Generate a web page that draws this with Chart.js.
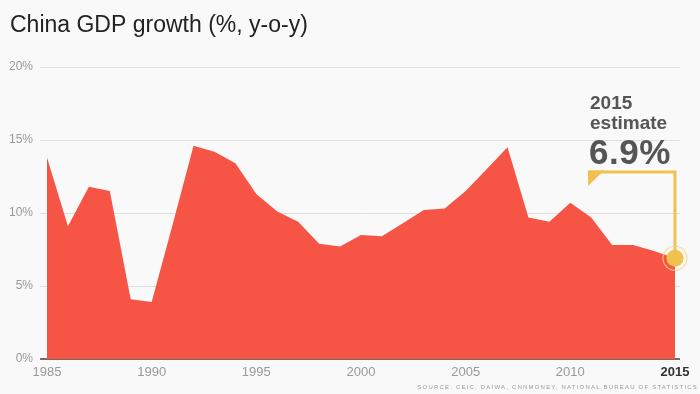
<!DOCTYPE html>
<html><head><meta charset="utf-8">
<script src="https://cdn.jsdelivr.net/npm/chart.js@4/dist/chart.umd.min.js"></script>
<style>html,body{margin:0;padding:0;background:#f9f9f9}#wrap{position:relative;width:700px;height:394px}</style>
</head><body><div id="wrap"><canvas id="c" width="700" height="394"></canvas></div>
<script>
const years = [1985,1986,1987,1988,1989,1990,1991,1992,1993,1994,1995,1996,1997,1998,1999,2000,2001,2002,2003,2004,2005,2006,2007,2008,2009,2010,2011,2012,2013,2014,2015];
const growth = [13.8,9.1,11.8,11.5,4.1,3.9,9.2,14.6,14.2,13.4,11.3,10.1,9.4,7.9,7.7,8.5,8.4,9.3,10.2,10.3,11.5,13.0,14.5,9.7,9.4,10.7,9.7,7.8,7.8,7.4,6.9];
const xTickYears = [1985,1990,1995,2000,2005,2010,2015];
const yTickValues = [0,5,10,15,20];
const titleText = "China GDP growth (%, y-o-y)";
const sourceText = "SOURCE: CEIC, DAIWA, CNNMONEY, NATIONAL BUREAU OF STATISTICS";
const estimateLabel = ["2015", "estimate"];
const estimateValueText = "6.9%";
const estimateYear = 2015;
const estimateValue = 6.9;

const RED = '#f65546';
const YELLOW = '#f1c14f';
const FONT = '"Liberation Sans", Arial, Helvetica, sans-serif';

const overlay = {
  id: 'overlay',
  afterDatasetsDraw(chart) {
    const ctx = chart.ctx;
    const xs = chart.scales.x, ys = chart.scales.y;
    const mx = xs.getPixelForValue(estimateYear);
    const my = ys.getPixelForValue(estimateValue);
    const bx = 588, by = 172;
    ctx.save();
    ctx.strokeStyle = YELLOW;
    ctx.lineWidth = 3;
    ctx.beginPath();
    ctx.moveTo(bx, by);
    ctx.lineTo(mx, by);
    ctx.lineTo(mx, my);
    ctx.stroke();
    ctx.fillStyle = YELLOW;
    ctx.beginPath();
    ctx.moveTo(bx, by - 1.5);
    ctx.lineTo(bx + 16, by - 1.5);
    ctx.lineTo(bx, by + 14);
    ctx.closePath();
    ctx.fill();
    ctx.beginPath();
    ctx.arc(mx, my, 12, 0, Math.PI * 2);
    ctx.strokeStyle = 'rgba(246,214,130,0.8)';
    ctx.lineWidth = 1.2;
    ctx.stroke();
    ctx.beginPath();
    ctx.arc(mx, my, 8.5, 0, Math.PI * 2);
    ctx.fillStyle = YELLOW;
    ctx.fill();
    ctx.fillStyle = '#555';
    ctx.textAlign = 'left';
    ctx.textBaseline = 'alphabetic';
    ctx.font = 'bold 19px ' + FONT;
    ctx.letterSpacing = '0px';
    ctx.fillText(estimateLabel[0], 590, 109);
    ctx.fillText(estimateLabel[1], 590, 129);
    ctx.font = 'bold 35px ' + FONT;
    ctx.letterSpacing = '0.5px';
    ctx.fillText(estimateValueText, 589, 164);
    ctx.letterSpacing = '0px';
    ctx.fillStyle = '#222';
    ctx.font = '23px ' + FONT;
    ctx.fillText(titleText, 10, 32);
    ctx.fillStyle = '#999';
    ctx.font = '6px ' + FONT;
    ctx.letterSpacing = '1.2px';
    ctx.textAlign = 'right';
    ctx.fillText(sourceText, 698, 389);
    ctx.restore();
  }
};

new Chart(document.getElementById('c'), {
  type: 'line',
  data: {
    datasets: [{
      data: years.map((y, i) => ({x: y, y: growth[i]})),
      fill: 'origin',
      backgroundColor: RED,
      borderColor: RED,
      borderWidth: 0,
      pointRadius: 0,
      tension: 0
    }]
  },
  options: {
    responsive: false,
    animation: false,
    layout: {padding: {left: 0, top: 67, right: 20, bottom: 0}},
    plugins: {legend: {display: false}, tooltip: {enabled: false}, title: {display: false}},
    scales: {
      x: {
        type: 'linear',
        min: 1985,
        max: 2015.24,
        afterBuildTicks: s => { s.ticks = xTickYears.map(v => ({value: v})); },
        afterFit: s => { s.height = 35; },
        grid: {display: false, drawTicks: false},
        border: {display: false},
        ticks: {
          padding: 6,
          maxRotation: 0,
          autoSkip: false,
          color: c => c.tick && c.tick.value === 2015 ? '#333' : '#999',
          font: c => ({family: FONT, size: 13, weight: (c.tick && c.tick.value === 2015) ? 'bold' : 'normal'}),
          callback: v => String(v)
        }
      },
      y: {
        min: 0,
        max: 20,
        afterBuildTicks: s => { s.ticks = yTickValues.map(v => ({value: v})); },
        afterFit: s => { s.width = 47; },
        grid: {
          color: c => c.tick && c.tick.value === 0 ? '#7a6a60' : '#dedede',
          lineWidth: c => c.tick && c.tick.value === 0 ? 2 : 1,
          tickLength: 7,
          drawTicks: true
        },
        border: {display: false},
        ticks: {
          padding: 7,
          color: '#999',
          font: {family: FONT, size: 12},
          callback: v => v + '%'
        }
      }
    }
  },
  plugins: [overlay]
});
</script>
</body></html>
